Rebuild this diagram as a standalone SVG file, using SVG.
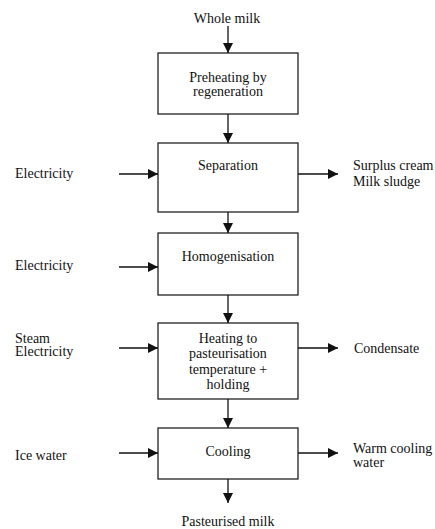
<svg xmlns="http://www.w3.org/2000/svg" width="435" height="529" viewBox="0 0 435 529">
  <defs>
    <marker id="arrow" viewBox="0 0 10 10" refX="10" refY="5" markerWidth="10" markerHeight="10" markerUnits="userSpaceOnUse" orient="auto">
      <path d="M0,0 L10,5 L0,10 Z" fill="#111"/>
    </marker>
  </defs>
  <style>
    text { font-family: "Liberation Serif", "Times New Roman", serif; font-size: 14px; fill: #111; }
    .c { text-anchor: middle; }
    .box { fill: #fff; stroke: #222; stroke-width: 1.3; }
    .link { stroke: #111; stroke-width: 1.3; fill: none; marker-end: url(#arrow); }
  </style>
  <rect width="435" height="529" fill="#fff"/>

  <!-- process steps -->
  <g id="preheating">
    <rect class="box" x="158" y="53" width="140" height="61"/>
    <text class="c" x="228" y="82">Preheating by</text>
    <text class="c" x="228" y="96">regeneration</text>
  </g>
  <g id="separation">
    <rect class="box" x="158" y="143" width="140" height="69"/>
    <text class="c" x="228" y="169.5">Separation</text>
  </g>
  <g id="homogenisation">
    <rect class="box" x="158" y="233" width="140" height="62"/>
    <text class="c" x="228" y="261">Homogenisation</text>
  </g>
  <g id="heating">
    <rect class="box" x="158" y="323" width="140" height="76"/>
    <text class="c" x="228" y="342.5">Heating to</text>
    <text class="c" x="228" y="358">pasteurisation</text>
    <text class="c" x="228" y="373.5">temperature +</text>
    <text class="c" x="228" y="389">holding</text>
  </g>
  <g id="cooling">
    <rect class="box" x="158" y="428" width="140" height="51"/>
    <text class="c" x="228" y="455.5">Cooling</text>
  </g>

  <!-- inputs and outputs -->
  <g id="whole-milk"><text class="c" x="227" y="23">Whole milk</text></g>
  <g id="pasteurised-milk"><text class="c" x="228" y="526">Pasteurised milk</text></g>
  <g id="electricity-1"><text x="15" y="177.5">Electricity</text></g>
  <g id="electricity-2"><text x="15" y="270">Electricity</text></g>
  <g id="steam-electricity">
    <text x="15" y="342.5">Steam</text>
    <text x="15" y="356">Electricity</text>
  </g>
  <g id="ice-water"><text x="15" y="460">Ice water</text></g>
  <g id="surplus">
    <text x="353" y="169.5">Surplus cream</text>
    <text x="353" y="185.5">Milk sludge</text>
  </g>
  <g id="condensate"><text x="354" y="352.5">Condensate</text></g>
  <g id="warm-water">
    <text x="353" y="453">Warm cooling</text>
    <text x="353" y="467">water</text>
  </g>

  <!-- connectors -->
  <g id="connectors">
    <line class="link" x1="228" y1="26" x2="228" y2="53"/>
    <line class="link" x1="228" y1="114" x2="228" y2="143"/>
    <line class="link" x1="228" y1="212" x2="228" y2="233"/>
    <line class="link" x1="228" y1="295" x2="228" y2="323"/>
    <line class="link" x1="228" y1="399" x2="228" y2="428"/>
    <line class="link" x1="228" y1="479" x2="228" y2="503"/>

    <line class="link" x1="119" y1="174" x2="158" y2="174"/>
    <line class="link" x1="119" y1="267" x2="158" y2="267"/>
    <line class="link" x1="119" y1="348" x2="158" y2="348"/>
    <line class="link" x1="119" y1="453" x2="158" y2="453"/>

    <line class="link" x1="298" y1="174" x2="338" y2="174"/>
    <line class="link" x1="298" y1="348" x2="338" y2="348"/>
    <line class="link" x1="298" y1="453" x2="338" y2="453"/>
  </g>
</svg>
